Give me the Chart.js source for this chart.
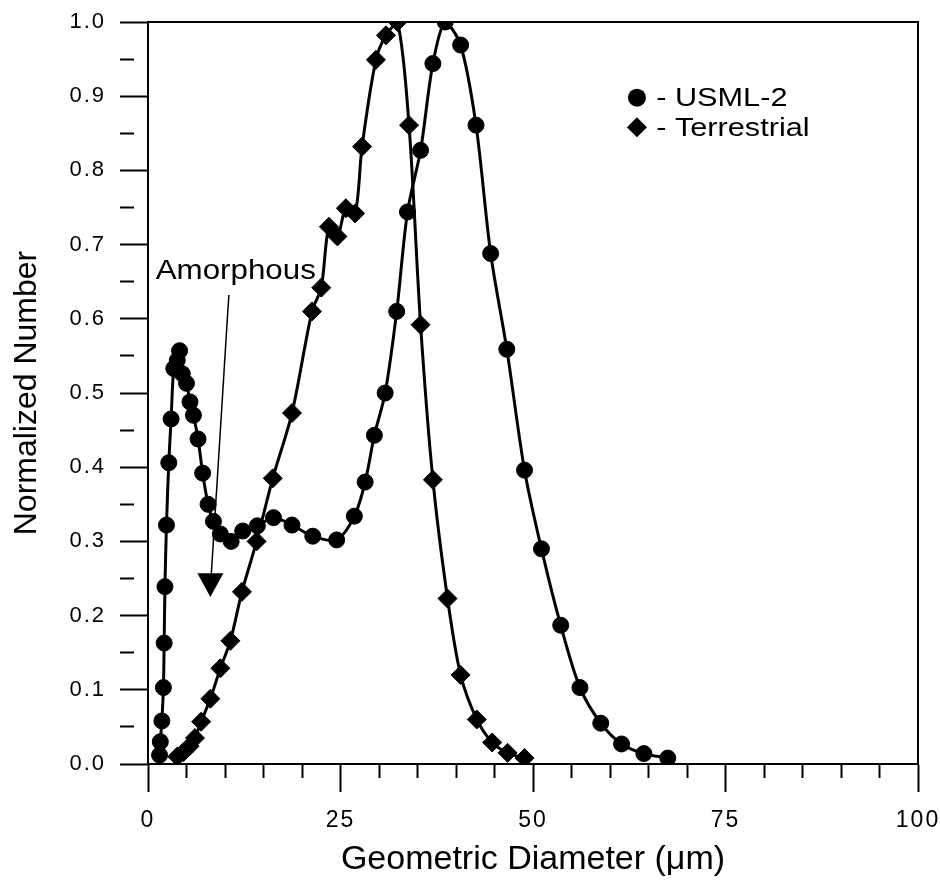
<!DOCTYPE html>
<html>
<head>
<meta charset="utf-8">
<script src="https://cdn.jsdelivr.net/npm/chart.js@4.4.0/dist/chart.umd.min.js"></script>
<style>
  html, body { margin: 0; padding: 0; background: #fff; }
</style>
</head>
<body>
<canvas id="myChart" width="940" height="880"></canvas>
<script>
// values
const usmlDiameter = [1.5, 1.6, 1.8, 2.0, 2.1, 2.2, 2.4, 2.7, 3.0, 3.35,
  3.8, 4.1, 4.45, 5.0, 5.45, 5.9, 6.5, 7.1, 7.8, 8.5,
  9.4, 10.8, 12.3, 14.2, 16.3, 18.7, 21.4, 24.5, 26.8, 28.2,
  29.4, 30.8, 32.3, 33.7, 35.4, 37.0, 38.6, 40.6, 42.6, 44.5,
  46.6, 48.9, 51.1, 53.6, 56.1, 58.8, 61.5, 64.4, 67.5];
const usmlNumber = [0.012, 0.030, 0.058, 0.103, 0.163, 0.239, 0.322, 0.406, 0.465, 0.533,
  0.544, 0.557, 0.526, 0.513, 0.488, 0.470, 0.438, 0.392, 0.350, 0.327,
  0.310, 0.300, 0.314, 0.321, 0.332, 0.322, 0.307, 0.302, 0.334, 0.380,
  0.443, 0.500, 0.610, 0.744, 0.827, 0.944, 1.000, 0.969, 0.861, 0.688,
  0.559, 0.396, 0.290, 0.187, 0.103, 0.055, 0.027, 0.014, 0.008];

const terrDiameter = [3.8, 4.6, 5.4, 6.1, 6.9, 8.1, 9.4, 10.7, 12.2, 14.1,
  16.2, 18.7, 21.3, 22.5, 23.5, 24.6, 25.7, 26.9, 27.8, 29.6,
  30.9, 32.4, 33.9, 35.4, 37.0, 38.9, 40.6, 42.7, 44.7, 46.7, 48.9];
const terrNumber = [0.010, 0.016, 0.024, 0.035, 0.057, 0.088, 0.129, 0.166, 0.232, 0.300,
  0.385, 0.473, 0.610, 0.642, 0.724, 0.711, 0.749, 0.742, 0.832, 0.949,
  0.982, 1.000, 0.861, 0.592, 0.383, 0.223, 0.120, 0.060, 0.029, 0.015, 0.008];

const seriesNames = ['USML-2', 'Terrestrial'];
const xTickLabels = [0, 25, 50, 75, 100];
const yTickLabels = [0.0, 0.1, 0.2, 0.3, 0.4, 0.5, 0.6, 0.7, 0.8, 0.9, 1.0];

const toPoints = (xs, ys) => xs.map((x, i) => ({ x: x, y: ys[i] }));

const FONT = 'Liberation Sans, Arial, sans-serif';

// tick labels in the original are widely spaced; they are drawn after the
// datasets (ticks.z = 1) so the spacing only touches them
const spacing = {
  id: 'spacing',
  afterDatasetsDraw(chart) { chart.ctx.letterSpacing = '2px'; },
  afterDraw(chart) { chart.ctx.letterSpacing = '0px'; }
};

// frame, annotation and legend drawn on top
const extras = {
  id: 'extras',
  afterDraw(chart) {
    const ctx = chart.ctx;
    const a = chart.chartArea;
    const xs = chart.scales.x, ys = chart.scales.y;
    ctx.save();
    ctx.letterSpacing = '0px';
    ctx.strokeStyle = '#000';
    ctx.lineWidth = 2;
    ctx.beginPath();
    ctx.moveTo(a.left, a.top);
    ctx.lineTo(a.right, a.top);
    ctx.lineTo(a.right, a.bottom);
    ctx.stroke();

    // "Amorphous" label and arrow
    ctx.fillStyle = '#000';
    ctx.font = '27px ' + FONT;
    ctx.textBaseline = 'alphabetic';
    ctx.save();
    ctx.translate(xs.getPixelForValue(1.0), ys.getPixelForValue(0.654));
    ctx.scale(1.16, 1);
    ctx.fillText('Amorphous', 0, 0);
    ctx.restore();

    const tipX = xs.getPixelForValue(8.1), tipY = ys.getPixelForValue(0.225);
    const baseY = ys.getPixelForValue(0.257);
    ctx.lineWidth = 1.5;
    ctx.beginPath();
    ctx.moveTo(xs.getPixelForValue(10.5), ys.getPixelForValue(0.632));
    ctx.lineTo(tipX + 1, baseY);
    ctx.stroke();
    ctx.beginPath();
    ctx.moveTo(tipX - 13, baseY);
    ctx.lineTo(tipX + 13, baseY);
    ctx.lineTo(tipX, tipY);
    ctx.closePath();
    ctx.fill();

    // legend
    const lx = xs.getPixelForValue(63.5);
    const ly1 = ys.getPixelForValue(0.898);
    const ly2 = ys.getPixelForValue(0.858);
    ctx.beginPath();
    ctx.arc(lx, ly1, 9, 0, Math.PI * 2);
    ctx.fill();
    ctx.beginPath();
    ctx.moveTo(lx, ly2 - 10);
    ctx.lineTo(lx + 10, ly2);
    ctx.lineTo(lx, ly2 + 10);
    ctx.lineTo(lx - 10, ly2);
    ctx.closePath();
    ctx.fill();
    ctx.font = '26px ' + FONT;
    ctx.textBaseline = 'middle';
    const tx = xs.getPixelForValue(66.0);
    [ly1, ly2].forEach((y, i) => {
      ctx.save();
      ctx.translate(tx, y + 1);
      ctx.scale(1.18, 1);
      ctx.fillText('- ' + seriesNames[i], 0, 0);
      ctx.restore();
    });
    ctx.restore();
  }
};

const data = {
  datasets: [{
    label: seriesNames[0],
    data: toPoints(usmlDiameter, usmlNumber),
    borderColor: '#000',
    backgroundColor: '#000',
    borderWidth: 3,
    pointStyle: 'circle',
    pointRadius: 8,
    pointBorderWidth: 1,
    tension: 0.3
  }, {
    label: seriesNames[1],
    data: toPoints(terrDiameter, terrNumber),
    borderColor: '#000',
    backgroundColor: '#000',
    borderWidth: 3,
    pointStyle: 'rectRot',
    pointRadius: 9.5,
    pointBorderWidth: 1,
    tension: 0.3
  }]
};

const config = {
  type: 'line',
  data,
  options: {
    responsive: false,
    animation: false,
    layout: { padding: { top: 22, right: 22, left: 0, bottom: 0 } },
    plugins: {
      legend: { display: false },
      tooltip: { enabled: false }
    },
    scales: {
      x: {
        type: 'linear',
        min: 0,
        max: 100,
        afterFit: (s) => { s.height = 116; s.paddingLeft = 0; s.paddingRight = 0; },
        border: { color: '#000', width: 2 },
        grid: {
          drawOnChartArea: false,
          color: '#000',
          tickColor: '#000',
          tickWidth: 2,
          tickLength: 28,
          tickBorderDash: (c) => (c.tick && xTickLabels.includes(Math.round(c.tick.value))) ? [] : [13, 100]
        },
        ticks: {
          z: 1,
          stepSize: 5,
          maxRotation: 0,
          autoSkip: false,
          padding: 15,
          color: '#000',
          font: { family: FONT, size: 23 },
          callback: (v) => xTickLabels.includes(Math.round(v)) ? String(Math.round(v)) : ''
        },
        title: {
          display: true,
          text: 'Geometric Diameter (\u03bcm)',
          color: '#000',
          font: { family: FONT, size: 34 },
          padding: { top: 0, bottom: 0 }
        }
      },
      y: {
        min: 0,
        max: 1,
        afterFit: (s) => { s.width = 148; s.paddingTop = 0; s.paddingBottom = 0; },
        border: { color: '#000', width: 2 },
        grid: {
          drawOnChartArea: false,
          color: '#000',
          tickColor: '#000',
          tickWidth: 2,
          tickLength: 28,
          tickBorderDash: (c) => (c.tick && Math.round(c.tick.value * 100) % 10 === 0) ? [] : [14, 100]
        },
        ticks: {
          z: 1,
          stepSize: 0.05,
          autoSkip: false,
          padding: 14,
          color: '#000',
          font: { family: FONT, size: 22 },
          callback: (v) => {
            const k = Math.round(v * 100);
            return k % 10 === 0 ? yTickLabels[k / 10].toFixed(1) : '';
          }
        },
        title: {
          display: true,
          text: 'Normalized Number',
          color: '#000',
          font: { family: FONT, size: 32 },
          padding: { top: 8, bottom: 0 }
        }
      }
    }
  },
  plugins: [spacing, extras]
};

const myChart = new Chart(document.getElementById('myChart'), config);
</script>
</body>
</html>
